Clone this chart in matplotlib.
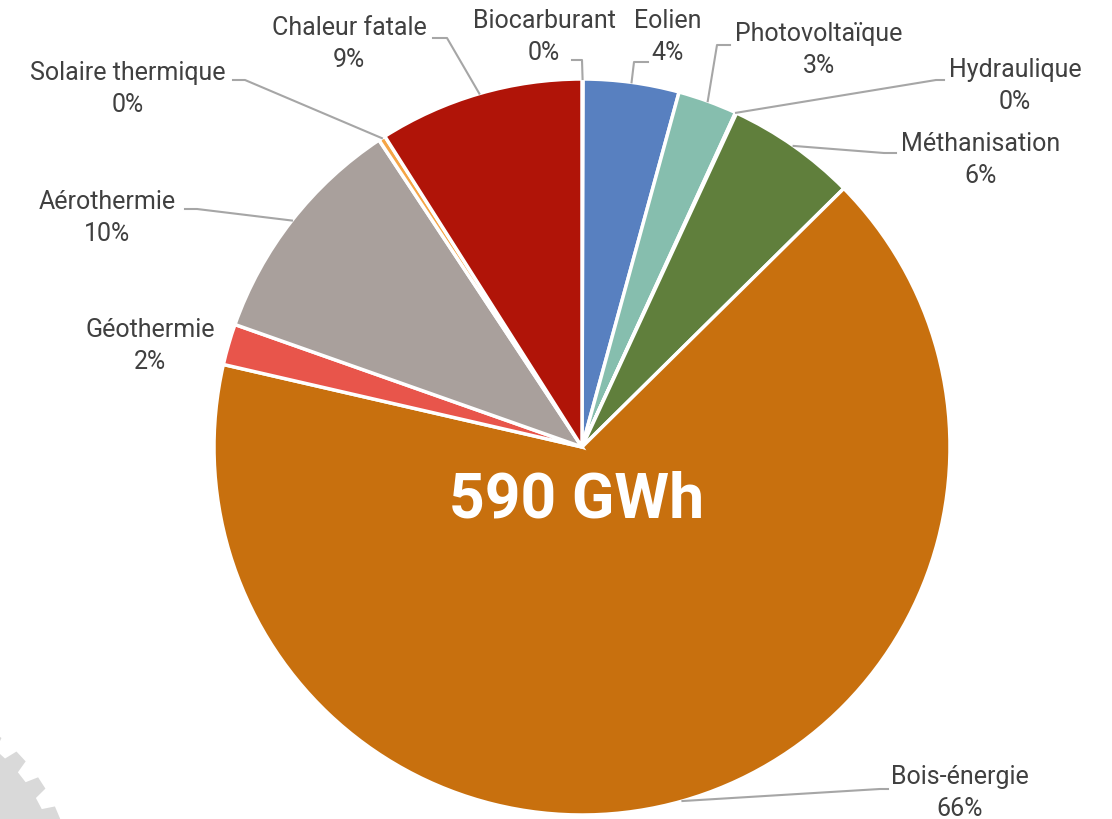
import numpy as np
import matplotlib.pyplot as plt
from matplotlib.patches import Polygon

plt.rcParams['font.family'] = ['Roboto', 'DejaVu Sans']

labels = ['Biocarburant', 'Eolien', 'Photovoltaïque', 'Hydraulique', 'Méthanisation',
          'Bois-énergie', 'Géothermie', 'Aérothermie', 'Solaire thermique', 'Chaleur fatale']
values = [0.05, 4.2, 2.6, 0.05, 5.7, 66.0, 1.8, 10.3, 0.3, 9.0]
colors = ['#F2A33A', '#5880C0', '#86BEAE', '#4F81BD', '#607F3C',
          '#C8700E', '#E8554B', '#A9A09C', '#F5A546', '#B01408']
total_label = '590 GWh'

# label positions (pixels, top-left origin) and leader elbows
text_pos = [(544, 37), (668, 37), (819, 50), (1015, 86), (981, 160),
            (960, 793), (150, 346), (107, 218), (128, 89), (349, 44)]
elbows = [[(582, 60), (572, 60)], [(634, 62), (648, 62)], [(717, 45), (730, 45)],
          [(936, 80), (944, 80)], [(884, 153), (896, 153)], [(880, 789), (888, 789)],
          None, [(197, 209), (185, 209)], [(245, 80), (233, 80)], [(447, 38), (433, 38)]]

W, H = 1112, 819
cx, cy, R = 582, 447, 368

fig = plt.figure(figsize=(W / 100, H / 100), dpi=100)
ax = fig.add_axes([0, 0, 1, 1])

# decorative gear in the bottom-left corner
gc = (-120, H - 888)
n_teeth = 36
pts = []
for i in range(n_teeth):
    a0 = 2 * np.pi * i / n_teeth
    step = 2 * np.pi / n_teeth
    for a, r in [(a0, 180), (a0 + step * 0.1, 193), (a0 + step * 0.5, 193), (a0 + step * 0.6, 180)]:
        pts.append((gc[0] + r * np.cos(a), gc[1] + r * np.sin(a)))
ax.add_patch(Polygon(pts, closed=True, facecolor='#D9D9D9', edgecolor='none', zorder=0))

wedges, _ = ax.pie(values, colors=colors, startangle=90, counterclock=False,
                   center=(cx, H - cy), radius=R,
                   wedgeprops=dict(edgecolor='white', linewidth=2.5))

ax.set_xlim(0, W)
ax.set_ylim(0, H)
ax.set_aspect('equal')
ax.axis('off')

total = sum(values)
cum = 0
for i, (lab, v) in enumerate(zip(labels, values)):
    mid = (cum + v / 2) / total * 360
    cum += v
    ex = cx + R * np.sin(np.radians(mid))
    ey = cy - R * np.cos(np.radians(mid))
    if elbows[i] is not None:
        xs = [ex] + [p[0] for p in elbows[i]]
        ys = [H - ey] + [H - p[1] for p in elbows[i]]
        ax.plot(xs, ys, color='#A6A6A6', lw=1.5, zorder=3)
    tx, ty = text_pos[i]
    ax.text(tx, H - ty, f'{lab}\n{round(v):.0f}%', ha='center', va='center',
            fontsize=18, color='#404040', linespacing=1.4)

ax.text(577, H - 500, total_label, ha='center', va='center', fontsize=45,
        fontweight='bold', color='white')

fig.savefig('out.png', dpi=100)
